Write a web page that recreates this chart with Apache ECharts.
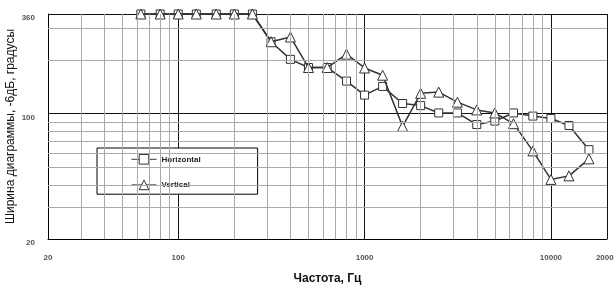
<!DOCTYPE html>
<html>
<head>
<meta charset="utf-8">
<script src="https://cdn.jsdelivr.net/npm/echarts@6/dist/echarts.min.js"></script>
<style>
  html, body { margin: 0; padding: 0; background: #fff; }
  #chart { width: 614px; height: 291px; }
</style>
</head>
<body>
<div id="chart"></div>
<script>
// частоты, 1/3 октавы
const freqs = [63, 80, 100, 125, 160, 200, 250, 315, 400, 500, 630, 800, 1000,
  1250, 1600, 2000, 2500, 3150, 4000, 5000, 6300, 8000, 10000, 12500, 16000];
const horizontal = [360, 360, 360, 360, 360, 360, 360, 252, 201, 181, 181, 152, 127,
  142, 114, 111, 101, 101, 87, 91, 101, 97, 94, 86, 63];
const vertical = [360, 360, 360, 360, 360, 360, 360, 252, 268, 181, 181, 215, 180,
  164, 85, 130, 132, 116, 105, 101, 88, 62, 43, 45, 56];

// второстепенные линии сетки
const xMinor = [30, 40, 50, 60, 70, 80, 90, 200, 300, 400, 500, 600, 700, 800, 900,
  2000, 3000, 4000, 5000, 6000, 7000, 8000, 9000];
const yMinor = [30, 40, 50, 60, 70, 80, 90, 200, 300];

const font = 'Liberation Sans, Arial, sans-serif';

function pairs(ys) {
  return freqs.map((f, i) => [f, ys[i]]);
}

function legendItem(name) {
  return {
    name: name,
    textStyle: { color: '#222', opacity: 1 },
    itemStyle: { color: '#fff', borderColor: '#333', borderWidth: 1, opacity: 1 },
    lineStyle: { color: '#333', width: 1, opacity: 1 }
  };
}

let chart = echarts.init(document.getElementById('chart'));

let option = {
  animation: false,
  color: ['#333', '#333', '#333'],
  grid: { left: 48, right: 7, top: 14, bottom: 52, outerBoundsMode: 'none', containLabel: false },
  legend: {
    orient: 'vertical',
    left: 97,
    top: 148,
    padding: [6, 57, 4, 34],
    itemGap: 15,
    itemWidth: 25,
    itemHeight: 12,
    backgroundColor: '#fff',
    borderColor: '#000',
    borderWidth: 1,
    selectedMode: false,
    textStyle: { fontSize: 8, fontWeight: 'bold', color: '#222', fontFamily: font },
    data: [legendItem('Horizontal'), legendItem('Vertical')]
  },
  xAxis: {
    type: 'log',
    logBase: 10,
    min: 20,
    max: 20000,
    name: 'Частота, Гц',
    nameLocation: 'middle',
    nameGap: 34,
    nameMoveOverlap: false,
    nameTextStyle: { fontSize: 12, fontWeight: 'bold', color: '#111', fontFamily: font },
    axisLine: { lineStyle: { color: '#000', width: 1 } },
    axisTick: { show: false },
    axisLabel: { fontSize: 8, fontWeight: 'bold', color: '#555', margin: 15, fontFamily: font,
      formatter: v => String(Math.round(v)) },
    splitLine: { show: true, lineStyle: { color: '#111', width: 1 } }
  },
  yAxis: {
    type: 'log',
    logBase: 10,
    min: 20,
    max: 360,
    name: 'Ширина диаграммы, -6дБ, градусы',
    nameLocation: 'middle',
    nameGap: 31,
    nameMoveOverlap: false,
    nameTextStyle: { fontSize: 12, color: '#111', fontFamily: font },
    axisLine: { show: true, lineStyle: { color: '#000', width: 1 } },
    axisTick: { show: false },
    axisLabel: { fontSize: 8, fontWeight: 'bold', color: '#555', margin: 13,
      verticalAlign: 'top', fontFamily: font, formatter: v => String(Math.round(v)) },
    splitLine: { show: true, lineStyle: { color: '#111', width: 1 } }
  },
  series: [
    {
      name: 'grid',
      type: 'line',
      data: [],
      z: 1,
      silent: true,
      markLine: {
        silent: true,
        symbol: 'none',
        label: { show: false },
        animation: false,
        lineStyle: { color: '#aaa', width: 1, type: 'solid' },
        data: xMinor.map(v => ({ xAxis: v })).concat(yMinor.map(v => ({ yAxis: v })))
      }
    },
    {
      name: 'Horizontal',
      type: 'line',
      data: pairs(horizontal),
      z: 3,
      clip: false,
      symbol: 'rect',
      symbolSize: 8,
      emphasis: { disabled: true },
      lineStyle: { color: '#333', width: 1.5 },
      itemStyle: { color: '#fff', borderColor: '#333', borderWidth: 1 }
    },
    {
      name: 'Vertical',
      type: 'line',
      data: pairs(vertical),
      z: 4,
      clip: false,
      symbol: 'triangle',
      symbolSize: 10,
      emphasis: { disabled: true },
      lineStyle: { color: '#333', width: 1.5 },
      itemStyle: { color: '#fff', borderColor: '#333', borderWidth: 1 }
    }
  ]
};

chart.setOption(option);
</script>
</body>
</html>
